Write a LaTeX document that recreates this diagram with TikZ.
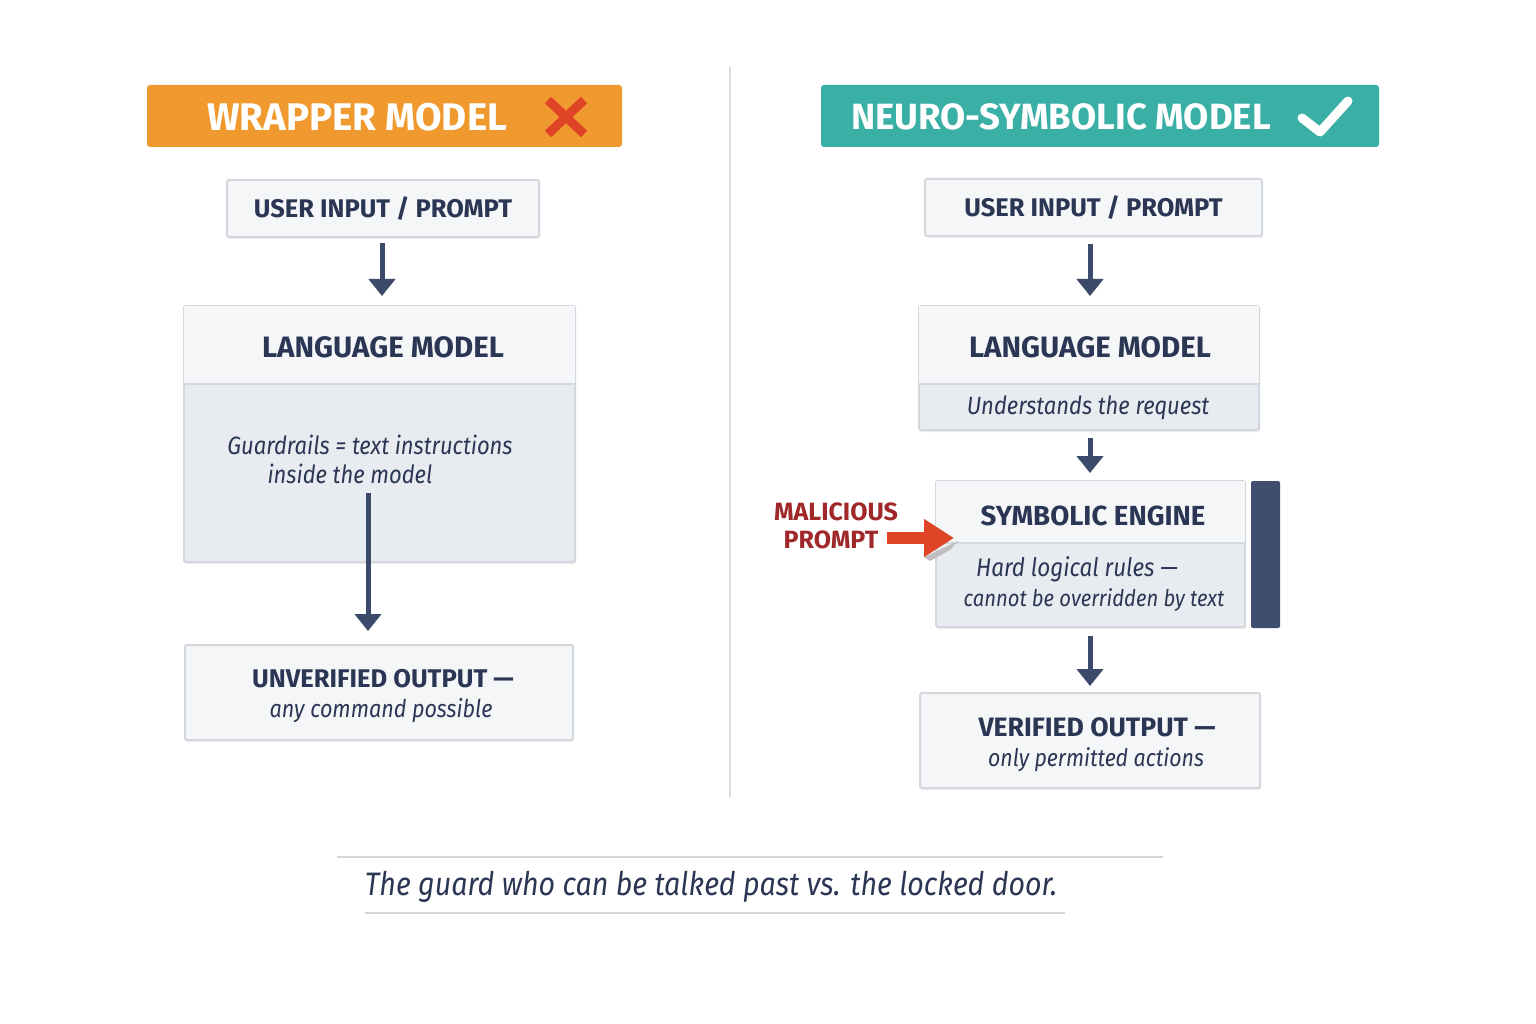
\documentclass[tikz,border=0pt]{standalone}
\usepackage{fontspec}
\setmainfont{Fira Sans}
\newfontfamily\itfont{Fira Sans}[FakeStretch=0.88]
\usetikzlibrary{arrows.meta,calc,shadows}
\definecolor{navy}{HTML}{2A3654}
\definecolor{bordc}{HTML}{D3D7DE}
\definecolor{boxfill}{HTML}{F5F6F8}
\definecolor{bodyfill}{HTML}{E8EBF0}
\definecolor{arrc}{HTML}{3B4A6B}
\definecolor{barc}{HTML}{3F4E6E}
\definecolor{redtxt}{HTML}{A0282A}
\definecolor{redarr}{HTML}{E04426}
\definecolor{orangec}{HTML}{F0992E}
\definecolor{tealc}{HTML}{3AAFA5}
\definecolor{divc}{HTML}{D8DBE0}
\begin{document}
\begin{tikzpicture}[x=1pt,y=-1pt,
  box/.style={draw=bordc, line width=2pt, fill=boxfill, rounded corners=2pt, inner sep=0pt,
    drop shadow={opacity=0.12, shadow xshift=1pt, shadow yshift=-2pt}},
  header/.style={rounded corners=3pt, inner sep=0pt, minimum height=62pt},
  htext/.style={text=white, font=\fontsize{37}{42}\selectfont\bfseries},
  title/.style={text=navy, font=\fontsize{#1}{30}\selectfont\bfseries},
  title/.default=25.5,
  ital/.style={text=navy, font=\fontsize{#1}{28}\selectfont\itfont\itshape},
  ital/.default=25,
  flow/.style={draw=arrc, line width=5pt, -{Triangle[width=26pt,length=17pt]}},
  sep/.style={draw=bordc, line width=1.5pt},
  maltext/.style={text=redtxt, font=\fontsize{25}{28}\selectfont\bfseries}
]
\useasboundingbox (0,0) rectangle (1536,1024);
\fill[white] (0,0) rectangle (1536,1024);

% divider
\draw[divc, line width=2pt] (730,67) -- (730,797);

% headers
\node[header, fill=orangec, minimum width=475pt] (hl) at (384.5,116) {};
\node[htext, font=\fontsize{38.5}{42}\selectfont\bfseries] (hlt) at (357,117) {WRAPPER MODEL};
\draw[redarr, line width=9pt] (548,100) -- (584,134) (584,100) -- (548,134);

\node[header, fill=tealc, minimum width=558pt] (hr) at (1100,116) {};
\node[htext, font=\fontsize{36.5}{42}\selectfont\bfseries] (hrt) at (1061,117) {NEURO-SYMBOLIC MODEL};
\draw[white, line width=9pt, line cap=round, line join=round] (1302,118) -- (1320,132) -- (1348,101);

% ---------- left column ----------
\node[box, minimum width=312pt, minimum height=57pt, title] (ui1) at (383,208.5) {USER INPUT / PROMPT};

\node[box, fill=bodyfill, minimum width=391pt, minimum height=256pt] (lm1) at (379.5,434) {};
\fill[boxfill] ($(lm1.north west)+(1,1)$) rectangle ($(lm1.north east |- 0,384)+(-1,0)$);
\draw[sep] (lm1.west |- 0,384) ++(1,0) -- ($(lm1.east |- 0,384)+(-1,0)$);
\node[title=29.5] (lm1t) at (383,347) {LANGUAGE MODEL};
\node[ital] (g1) at (370,445) {Guardrails = text instructions};
\node[ital] (g2) at (350,474) {inside the model};

\node[box, minimum width=388pt, minimum height=95pt] (uo) at (379,692.5) {};
\node[title=25.6] (uoa) at (383,679) {UNVERIFIED OUTPUT —};
\node[ital=24.5] (uob) at (381,711) {any command possible};

\draw[flow, shorten <=5pt, shorten >=9pt] (ui1.south -| 382,0) -- (lm1.north -| 382,0);
\coordinate (gstart) at (368,493);
\draw[flow, shorten >=13pt] (gstart) -- (uo.north -| gstart);

% ---------- right column ----------
\node[box, minimum width=337pt, minimum height=57pt, title] (ui2) at (1093.5,207.5) {USER INPUT / PROMPT};

\node[box, fill=bodyfill, minimum width=340pt, minimum height=124pt] (lm2) at (1089,368) {};
\fill[boxfill] ($(lm2.north west)+(1,1)$) rectangle ($(lm2.north east |- 0,384)+(-1,0)$);
\draw[sep] (lm2.west |- 0,384) ++(1,0) -- ($(lm2.east |- 0,384)+(-1,0)$);
\node[title=29.5] (lm2t) at (1090,347) {LANGUAGE MODEL};
\node[ital] (lm2b) at (1088,408) {Understands the request};

\node[box, fill=bodyfill, minimum width=309pt, minimum height=146pt] (se) at (1090.5,554) {};
\fill[boxfill] ($(se.north west)+(1,1)$) rectangle ($(se.north east |- 0,543)+(-1,0)$);
\draw[sep] (se.west |- 0,543) ++(1,0) -- ($(se.east |- 0,543)+(-1,0)$);
\node[title=27.6] (set) at (1093,516) {SYMBOLIC ENGINE};
\node[ital=25.5] (seb1) at (1077,569) {Hard logical rules —};
\node[ital=23] (seb2) at (1094,600) {cannot be overridden by text};

\node[fill=barc, rounded corners=2pt, minimum width=29pt, minimum height=147pt, inner sep=0pt] (bar) at (1265.5,554.5) {};

\node[box, minimum width=340pt, minimum height=95pt] (vo) at (1090,740.5) {};
\node[title=26.6] (voa) at (1097,727) {VERIFIED OUTPUT —};
\node[ital=24.2] (vob) at (1096,760) {only permitted actions};

\draw[flow, shorten <=7pt, shorten >=9pt] (ui2.south -| 1090,0) -- (lm2.north -| 1090,0);
\draw[flow, shorten <=7pt, shorten >=7pt] (lm2.south -| 1090,0) -- (se.north -| 1090,0);
\draw[flow, shorten <=8pt, shorten >=6pt] (se.south -| 1090,0) -- (vo.north -| 1090,0);

% malicious prompt
\node[maltext] (mal1) at (836,512) {MALICIOUS};
\node[maltext] (mal2) at (831,540) {PROMPT};
\fill[black!25] (924,557) -- (958,541) -- (950,550) -- (930,561) -- cycle;
\coordinate (ms) at (887,538);
\draw[redarr, line width=12pt, -{Triangle[width=36pt,length=30pt]}, shorten >=-19pt] (ms) -- (ms -| se.west);

% bottom caption
\draw[bordc, line width=2pt] (337,857) -- (1163,857);
\node[text=navy, font=\fontsize{32.5}{36}\selectfont\itfont\itshape] (cap) at (711,887) {The guard who can be talked past vs. the locked door.};
\draw[bordc, line width=2pt] (365,913) -- (1065,913);
\end{tikzpicture}
\end{document}
